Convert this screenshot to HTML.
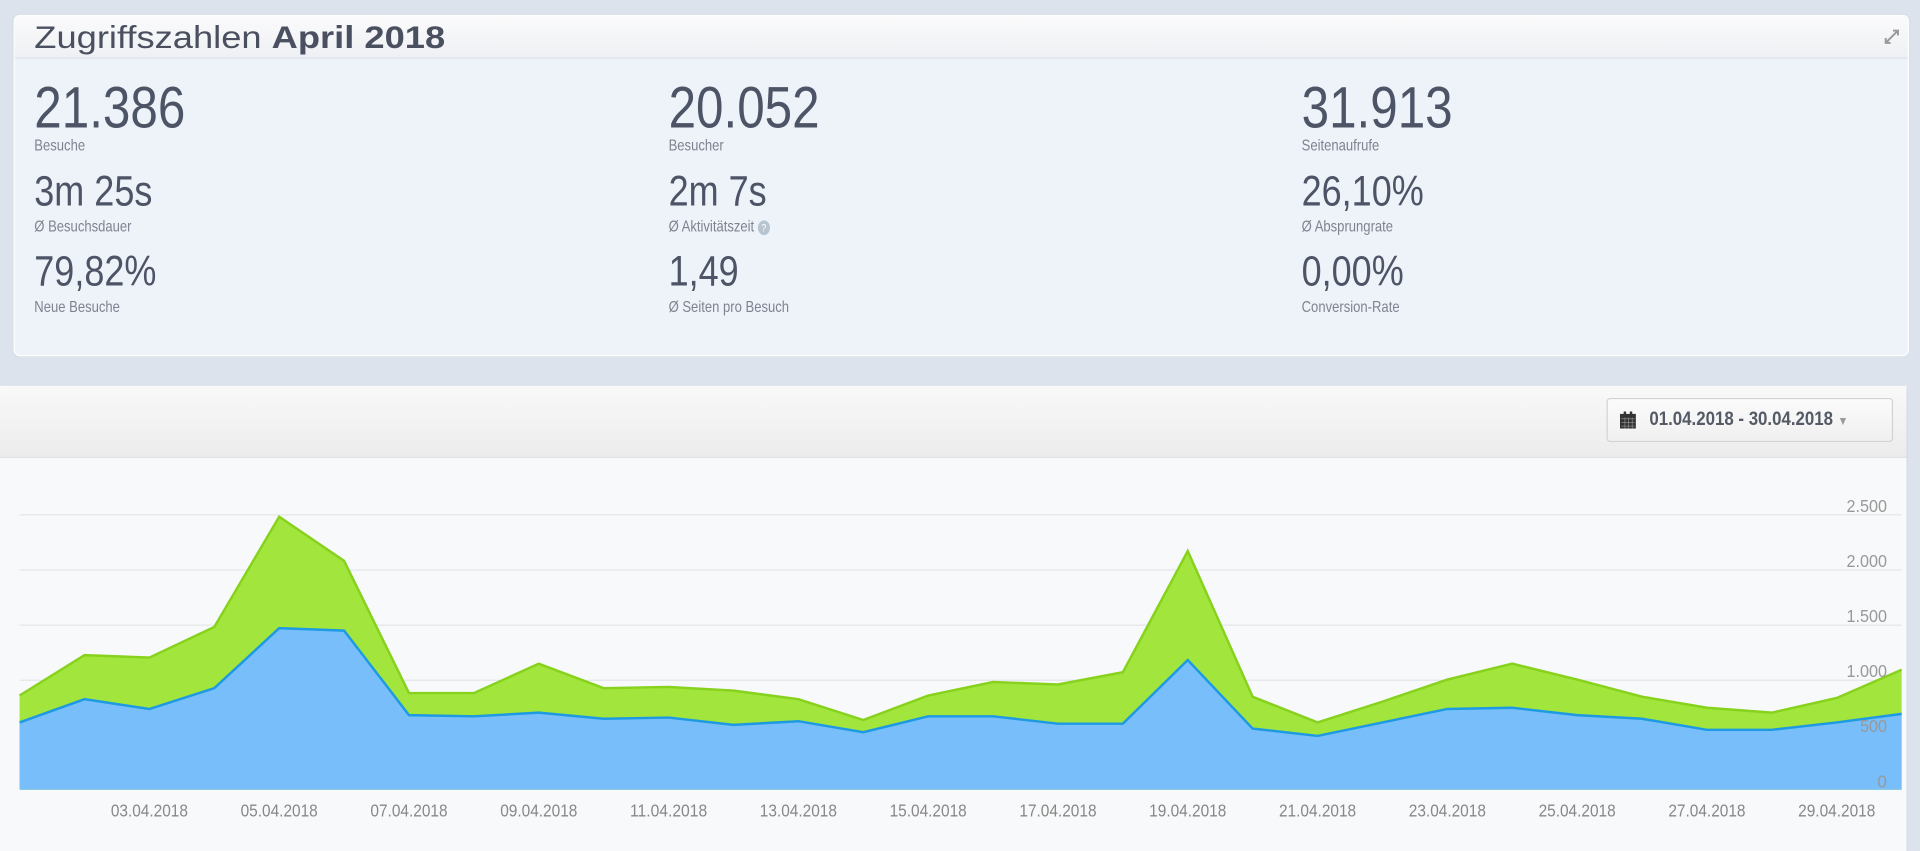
<!DOCTYPE html>
<html><head><meta charset="utf-8"><style>
html,body{margin:0;padding:0;width:1920px;height:834px;overflow:hidden;background:#dce3ec;}
#w{position:absolute;left:0;top:0;width:1568px;height:681px;transform:scale(1.22449);transform-origin:0 0;font-family:"Liberation Sans",sans-serif;}
.p1{position:absolute;left:11px;top:12px;width:1546px;height:277px;background:#eef3fa;border:1px solid #fff;border-radius:5px;box-shadow:0 0 1px #c8d0da;}
.h1{height:34px;border-bottom:1px solid #dde3ea;background:linear-gradient(#fbfbfc,#eef0f3);border-radius:5px 5px 0 0;}
.t{position:absolute;left:16px;top:2px;font-size:26px;color:#4a5060;transform:scaleX(1.14);transform-origin:0 0;white-space:nowrap;}
.n{position:absolute;color:#4d5466;line-height:1;transform:scaleX(0.84);transform-origin:0 0;white-space:nowrap;}
.big{font-size:48px;}
.mid{font-size:35px}
.l{position:absolute;font-size:13px;color:#7e8390;transform:scaleX(0.82);transform-origin:0 0;white-space:nowrap;}
.p2{position:absolute;left:0;top:315px;width:1557px;height:380px;background:#f8f9fa;border-radius:0 5px 0 0;box-shadow:0 0 1px #c8d0da;}
.h2{height:58px;background:linear-gradient(#f9f9f9,#ececec);border-bottom:1px solid #e0e0e0;}
.btn{position:absolute;left:1312px;top:10px;width:234px;height:36px;border:1px solid #cfd3d8;border-radius:3px;background:linear-gradient(#fbfbfb,#f0f0f0);box-sizing:border-box;}
.bt{position:absolute;left:34px;top:8px;font-size:16px;font-weight:bold;color:#555b66;transform:scaleX(0.86);transform-origin:0 0;white-space:nowrap;}
</style></head><body><div id="w">
<div class="p1"><div class="h1"><div class="t">Zugriffszahlen <b>April 2018</b></div>
<svg style="position:absolute;right:6px;top:10px" width="14" height="14"><path d="M2 12 L12 2 M8 2 H12 V6 M2 8 V12 H6" stroke="#999" stroke-width="1.6" fill="none"/></svg></div>
<div class="n big" style="left:16px;top:52px">21.386</div><div class="l" style="left:16px;top:98px">Besuche</div>
<div class="n mid" style="left:16px;top:126px">3m 25s</div><div class="l" style="left:16px;top:164px">Ø Besuchsdauer</div>
<div class="n mid" style="left:16px;top:191px">79,82%</div><div class="l" style="left:16px;top:230px">Neue Besuche</div>
<div class="n big" style="left:534px;top:52px">20.052</div><div class="l" style="left:534px;top:98px">Besucher</div>
<div class="n mid" style="left:534px;top:126px">2m 7s</div><div class="l" style="left:534px;top:164px">Ø Aktivitätszeit <span style="display:inline-block;width:12px;height:12px;border-radius:50%;background:#b8c4d0;color:#fff;font-size:9px;text-align:center;line-height:12px">?</span></div>
<div class="n mid" style="left:534px;top:191px">1,49</div><div class="l" style="left:534px;top:230px">Ø Seiten pro Besuch</div>
<div class="n big" style="left:1051px;top:52px">31.913</div><div class="l" style="left:1051px;top:98px">Seitenaufrufe</div>
<div class="n mid" style="left:1051px;top:126px">26,10%</div><div class="l" style="left:1051px;top:164px">Ø Absprungrate</div>
<div class="n mid" style="left:1051px;top:191px">0,00%</div><div class="l" style="left:1051px;top:230px">Conversion-Rate</div>
</div>
<div class="p2"><div class="h2"><div class="btn"><svg style="position:absolute;left:10px;top:10px" width="13" height="14"><rect x="0" y="2" width="13" height="12" fill="#333"/><rect x="3" y="0" width="2" height="3" fill="#333"/><rect x="8" y="0" width="2" height="3" fill="#333"/><path d="M1 6H12M1 9H12M1 12H12M4 5V14M7 5V14M10 5V14" stroke="#888" stroke-width="0.6"/></svg><div class="bt">01.04.2018 - 30.04.2018 <span style="color:#999;font-size:10px">▼</span></div></div></div></div>
<svg style="position:absolute;left:0;top:0" width="1568" height="681">
<g stroke="#e4e6e9" stroke-width="1"><line x1="16" x2="1553" y1="420.5" y2="420.5"/><line x1="16" x2="1553" y1="465.5" y2="465.5"/><line x1="16" x2="1553" y1="510.5" y2="510.5"/><line x1="16" x2="1553" y1="555.5" y2="555.5"/><line x1="16" x2="1553" y1="600.5" y2="600.5"/></g>
<polygon fill="#a2e53c" points="16,645 16,568 69,535 122,537 175,512 228,422 281,458 334,566 387,566 440,542 493,562 546,561 599,564 652,571 705,588 758,568 811,557 864,559 917,549 970,450 1023,569 1076,590 1129,573 1182,555 1235,542 1288,555 1341,569 1394,578 1447,582 1500,570 1553,547 1553,645"/>
<polyline fill="none" stroke="#86d21c" stroke-width="2" points="16,568 69,535 122,537 175,512 228,422 281,458 334,566 387,566 440,542 493,562 546,561 599,564 652,571 705,588 758,568 811,557 864,559 917,549 970,450 1023,569 1076,590 1129,573 1182,555 1235,542 1288,555 1341,569 1394,578 1447,582 1500,570 1553,547"/>
<polygon fill="#77befa" points="16,645 16,590 69,571 122,579 175,562 228,513 281,515 334,584 387,585 440,582 493,587 546,586 599,592 652,589 705,598 758,585 811,585 864,591 917,591 970,539 1023,595 1076,601 1129,590 1182,579 1235,578 1288,584 1341,587 1394,596 1447,596 1500,590 1553,583 1553,645"/>
<polyline fill="none" stroke="#1d9ae2" stroke-width="2" points="16,590 69,571 122,579 175,562 228,513 281,515 334,584 387,585 440,582 493,587 546,586 599,592 652,589 705,598 758,585 811,585 864,591 917,591 970,539 1023,595 1076,601 1129,590 1182,579 1235,578 1288,584 1341,587 1394,596 1447,596 1500,590 1553,583"/>
<g font-family="Liberation Sans,sans-serif" font-size="14" fill="#999" text-anchor="end"><text x="1541" y="418" textLength="33" lengthAdjust="spacingAndGlyphs">2.500</text><text x="1541" y="463" textLength="33" lengthAdjust="spacingAndGlyphs">2.000</text><text x="1541" y="508" textLength="33" lengthAdjust="spacingAndGlyphs">1.500</text><text x="1541" y="553" textLength="33" lengthAdjust="spacingAndGlyphs">1.000</text><text x="1541" y="598" textLength="22" lengthAdjust="spacingAndGlyphs">500</text><text x="1541" y="643">0</text></g>
<g font-family="Liberation Sans,sans-serif" font-size="14" fill="#888" text-anchor="middle"><text x="122" y="667" textLength="63" lengthAdjust="spacingAndGlyphs">03.04.2018</text><text x="228" y="667" textLength="63" lengthAdjust="spacingAndGlyphs">05.04.2018</text><text x="334" y="667" textLength="63" lengthAdjust="spacingAndGlyphs">07.04.2018</text><text x="440" y="667" textLength="63" lengthAdjust="spacingAndGlyphs">09.04.2018</text><text x="546" y="667" textLength="63" lengthAdjust="spacingAndGlyphs">11.04.2018</text><text x="652" y="667" textLength="63" lengthAdjust="spacingAndGlyphs">13.04.2018</text><text x="758" y="667" textLength="63" lengthAdjust="spacingAndGlyphs">15.04.2018</text><text x="864" y="667" textLength="63" lengthAdjust="spacingAndGlyphs">17.04.2018</text><text x="970" y="667" textLength="63" lengthAdjust="spacingAndGlyphs">19.04.2018</text><text x="1076" y="667" textLength="63" lengthAdjust="spacingAndGlyphs">21.04.2018</text><text x="1182" y="667" textLength="63" lengthAdjust="spacingAndGlyphs">23.04.2018</text><text x="1288" y="667" textLength="63" lengthAdjust="spacingAndGlyphs">25.04.2018</text><text x="1394" y="667" textLength="63" lengthAdjust="spacingAndGlyphs">27.04.2018</text><text x="1500" y="667" textLength="63" lengthAdjust="spacingAndGlyphs">29.04.2018</text></g>
</svg>
</div></body></html>
